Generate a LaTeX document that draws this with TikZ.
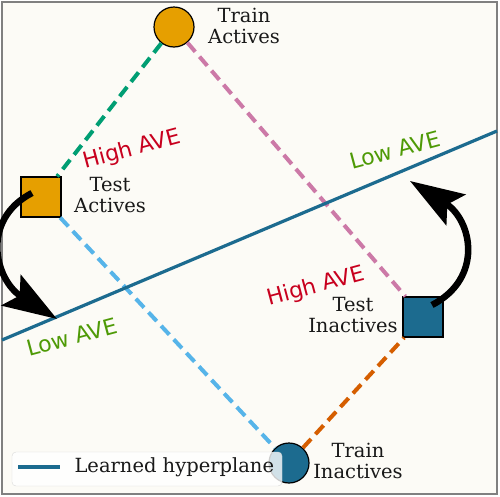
\documentclass[tikz,border=0pt]{standalone}
\usepackage{fontspec}
\setmainfont{DejaVu Serif}
\newfontfamily\avefont{DejaVu Sans}
\usetikzlibrary{arrows.meta}

\definecolor{paper}{HTML}{FCFBF6}
\definecolor{hypblue}{HTML}{1C6B8F}
\definecolor{actorange}{HTML}{E69F00}
\definecolor{dgreen}{HTML}{009E73}
\definecolor{dpink}{HTML}{CC79A7}
\definecolor{dsky}{HTML}{56B4E9}
\definecolor{dorange}{HTML}{D55E00}
\definecolor{avered}{HTML}{C8001E}
\definecolor{avegreen}{HTML}{4E9A06}

\begin{document}
\begin{tikzpicture}[x=1pt,y=-1pt,
  dot/.style={circle,draw=black,line width=1.2pt,minimum size=40pt,inner sep=0pt},
  box/.style={rectangle,draw=black,line width=1.2pt,minimum size=40pt,inner sep=0pt},
  lbl/.style={align=center,font=\fontsize{19.5}{21}\selectfont,text=black!90},
  ave/.style={font=\avefont\fontsize{22}{24}\selectfont,rotate=15},
  pair/.style={dashed,line width=4pt,dash pattern=on 12pt off 6.5pt},
  hyper/.style={draw=hypblue,line width=3.2pt},
  swap/.style={line width=6.5pt,-{Stealth[length=54pt,width=36pt,inset=10pt]}}]
\useasboundingbox (0,0) rectangle (500,496);
\draw[gray,line width=1.5pt,fill=paper] (2,2) rectangle (497,494);
%
\coordinate (hl) at (2,340);
\coordinate (hr) at (497,131);
%
\node[dot,fill=actorange] (trainact) at (174,27) {};
\node[box,fill=actorange] (testact) at (41,197) {};
\node[box,fill=hypblue] (testinact) at (423,317) {};
\node[dot,fill=hypblue] (traininact) at (289,463) {};
%
\draw[pair,dgreen] (trainact) -- (testact);
\draw[pair,dpink] (trainact) -- (testinact);
\draw[pair,dsky] (testact) -- (traininact);
\draw[pair,dorange] (traininact) -- (testinact);
\draw[hyper] (hl) -- (hr);
%
\node[lbl] (trainactlbl) at (244,26) {Train\\Actives};
\node[lbl] (testactlbl) at (110,195) {Test\\Actives};
\node[lbl] (testinactlbl) at (353,315) {Test\\Inactives};
\node[lbl] (traininactlbl) at (358,461) {Train\\Inactives};
%
\node[ave,text=avered] (highup) at (132,150) {High AVE};
\node[ave,text=avered] (highdown) at (316,287) {High AVE};
\node[ave,text=avegreen] (lowup) at (395,150) {Low AVE};
\node[ave,text=avegreen] (lowdown) at (72,337) {Low AVE};
%
\coordinate (actstart) at (32,193);
\coordinate (actend) at (57,319);
\coordinate (inactstart) at (432,305);
\coordinate (inactend) at (410,181);
\draw[swap] (actstart) .. controls (-20,220) and (-5,280) .. (actend);
\draw[swap] (inactstart) .. controls (484,278) and (472,220) .. (inactend);
%
\draw[rounded corners=4pt,draw=black!15,fill=white,fill opacity=0.8] (12,452) rectangle (282,486);
\coordinate (keyl) at (18,467);
\coordinate (keyr) at (60,467);
\draw[hyper] (keyl) -- (keyr);
\node[lbl,anchor=west] (keytext) at (71,467) {Learned hyperplane};
\end{tikzpicture}
\end{document}
